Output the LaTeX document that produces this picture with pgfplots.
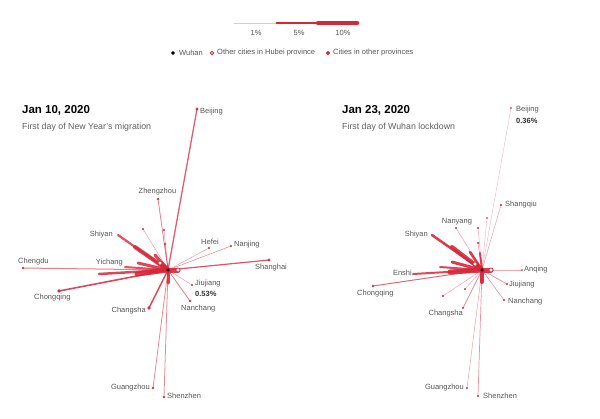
\documentclass[border=0pt]{standalone}
\usepackage{pgfplots}
\pgfplotsset{compat=1.18}
\usepackage{fontspec}
\setmainfont{Liberation Sans}
\definecolor{mred}{RGB}{214,39,57}
\definecolor{lbl}{RGB}{85,85,85}
\definecolor{subc}{RGB}{95,95,95}

% line to a city in another province: dx dy width opacity
\newcommand{\other}[4]{\addplot[line width=#3pt, draw=mred, draw opacity=#4, line cap=round, mark=*, mark indices={2}, mark size=0.7pt, mark options={solid, fill=mred, draw=none, opacity=0.9}] coordinates {(0,0) (#1,#2)};}
% line to a city in Hubei
\newcommand{\hubei}[4]{\addplot[line width=#3pt, draw=mred, draw opacity=#4, line cap=round] coordinates {(0,0) (#1,#2)};}
% line to a city in Hubei with open circle
\newcommand{\hubeic}[5]{\addplot[line width=#3pt, draw=mred, draw opacity=#4, line cap=round, mark=*, mark indices={2}, mark size=#5pt, mark options={solid, fill=white, draw=mred, line width=0.7pt, opacity=1}] coordinates {(0,0) (#1,#2)};}
\newcommand{\lab}[4]{\node[anchor=#3, font=\fontsize{7.5}{9}\selectfont, text=lbl, inner sep=0pt] at (axis cs:#1,#2) {#4};}
\newcommand{\blab}[4]{\node[anchor=#3, font=\bfseries\fontsize{7.5}{9}\selectfont, text=black!80, inner sep=0pt] at (axis cs:#1,#2) {#4};}

\pgfplotsset{panel/.style={hide axis, x=1pt, y=1pt, clip=false, anchor=origin}}

\begin{document}
\begin{tikzpicture}
\path[use as bounding box] (0pt,0pt) rectangle (600pt,-418pt);

% ---------- legend ----------
\begin{axis}[panel, at={(0pt,0pt)}, xmin=0, xmax=600, ymin=-70, ymax=0]
\addplot[line width=1pt, draw=mred!30] coordinates {(234,-23) (276,-23)};
\addplot[line width=2.2pt, draw=mred] coordinates {(276,-23) (318,-23)};
\addplot[line width=4.5pt, draw=mred, line cap=round] coordinates {(318,-23) (357,-23)};
\lab{256}{-33}{center}{1\%}
\lab{299}{-33}{center}{5\%}
\lab{343}{-33}{center}{10\%}
\addplot[only marks, mark=*, mark size=1.6pt, black] coordinates {(173,-53)};
\addplot[only marks, mark=*, mark size=1.8pt, mark options={fill=white, draw=mred, line width=0.8pt}] coordinates {(212,-53)};
\addplot[only marks, mark=*, mark size=1.8pt, mred] coordinates {(328,-53)};
\lab{179}{-53}{west}{Wuhan}
\lab{217}{-53}{west}{Other cities in Hubei province}
\lab{333}{-53}{west}{Cities in other provinces}
\end{axis}

% ---------- titles ----------
\node[anchor=west, inner sep=0pt, font=\bfseries\fontsize{11.5}{13}\selectfont] at (22pt,-110pt) {Jan 10, 2020};
\node[anchor=west, inner sep=0pt, text=subc, font=\fontsize{8.8}{10}\selectfont] at (22pt,-127pt) {First day of New Year's migration};
\node[anchor=west, inner sep=0pt, font=\bfseries\fontsize{11.5}{13}\selectfont] at (342pt,-110pt) {Jan 23, 2020};
\node[anchor=west, inner sep=0pt, text=subc, font=\fontsize{8.8}{10}\selectfont] at (342pt,-127pt) {First day of Wuhan lockdown};

% ---------- left panel: Jan 10 ----------
\begin{axis}[panel, at={(168pt,-270pt)}, xmin=-160, xmax=130, ymin=-140, ymax=170]
\other{-25}{41}{0.5}{0.45}
\other{-4}{40}{0.5}{0.45}
\other{-3}{26}{0.6}{0.5}
\other{41}{22}{0.5}{0.45}
\other{63}{24}{0.6}{0.5}
\other{24}{-15}{0.5}{0.45}
\other{22}{-31}{0.8}{0.6}
\other{-15}{-118}{0.8}{0.55}
\other{-4}{-127}{0.8}{0.55}
\other{-10}{71}{0.8}{0.6}
\other{-145}{2}{1.0}{0.6}
\other{101}{10}{1.2}{0.8}
\other{-19}{-38}{1.5}{0.85}
\other{-109}{-21}{1.6}{0.85}
\other{29}{161}{1.3}{0.75}
\hubei{-69}{-4}{2.5}{0.85}
\hubei{-50}{35}{2.2}{0.8}
\hubei{-43}{3}{2}{0.8}
\hubei{-33}{23}{4}{0.85}
\hubei{-30}{7}{3}{0.85}
\hubei{-31}{-4}{5}{0.9}
\hubei{-18}{-2}{3}{0.85}
\hubei{-13}{15}{3}{0.85}
\hubei{0}{-13}{3}{0.9}
\hubeic{-8}{7}{5}{0.9}{2}
\hubeic{10}{0}{5}{0.9}{2}
\addplot[only marks, mark=*, mark size=1.3pt, black] coordinates {(0,0)};
\lab{32}{158}{west}{Beijing}
\lab{-10.5}{78}{center}{Zhengzhou}
\lab{-55}{35}{east}{Shiyan}
\lab{-45}{7}{east}{Yichang}
\lab{-150}{8}{west}{Chengdu}
\lab{-134}{-28}{west}{Chongqing}
\lab{-22}{-41}{east}{Changsha}
\lab{-18}{-118}{east}{Guangzhou}
\lab{-1}{-126}{west}{Shenzhen}
\lab{13}{-39}{west}{Nanchang}
\lab{27}{-14}{west}{Jiujiang}
\blab{27}{-24}{west}{0.53\%}
\lab{87}{2}{west}{Shanghai}
\lab{66}{25}{west}{Nanjing}
\lab{33}{28}{west}{Hefei}
\end{axis}

% ---------- right panel: Jan 23 ----------
\begin{axis}[panel, at={(482pt,-270pt)}, xmin=-130, xmax=105, ymin=-140, ymax=170]
\other{-4}{42}{0.5}{0.4}
\other{5}{52}{0.4}{0.35}
\other{-39}{-26}{0.5}{0.4}
\other{-17}{-19}{0.5}{0.4}
\other{-4}{27}{0.6}{0.45}
\other{29}{162}{0.4}{0.35}
\other{19}{65}{0.5}{0.45}
\other{-26}{42}{0.5}{0.45}
\other{-109}{-16}{1.0}{0.7}
\other{-19}{-38}{0.7}{0.55}
\other{-15}{-118}{0.5}{0.45}
\other{-4}{-126}{0.7}{0.5}
\other{22}{-30}{0.6}{0.5}
\other{25}{-14}{0.7}{0.55}
\other{40}{0}{0.4}{0.4}
\hubei{-69}{-4}{2}{0.85}
\hubei{-50}{35}{2.5}{0.9}
\hubei{-42}{3}{2}{0.85}
\hubei{-30}{23}{4}{0.9}
\hubei{-30}{8}{3}{0.9}
\hubei{-32}{-2}{5}{0.9}
\hubei{-12}{18}{2.5}{0.9}
\hubei{-2}{17}{2}{0.85}
\hubei{0}{-12}{4}{0.95}
\hubeic{-7}{6}{5}{0.9}{2}
\hubeic{9}{0}{5}{0.9}{2}
\addplot[only marks, mark=*, mark size=1.3pt, black] coordinates {(0,0)};
\lab{34}{160}{west}{Beijing}
\blab{34}{149}{west}{0.36\%}
\lab{23}{65}{west}{Shangqiu}
\lab{-25}{48}{center}{Nanyang}
\lab{-54}{35}{east}{Shiyan}
\lab{-70}{-3}{east}{Enshi}
\lab{-125}{-24}{west}{Chongqing}
\lab{-19}{-44}{east}{Changsha}
\lab{-18}{-118}{east}{Guangzhou}
\lab{1}{-126}{west}{Shenzhen}
\lab{26}{-32}{west}{Nanchang}
\lab{27}{-15}{west}{Jiujiang}
\lab{42}{0}{west}{Anqing}
\end{axis}
\end{tikzpicture}
\end{document}
